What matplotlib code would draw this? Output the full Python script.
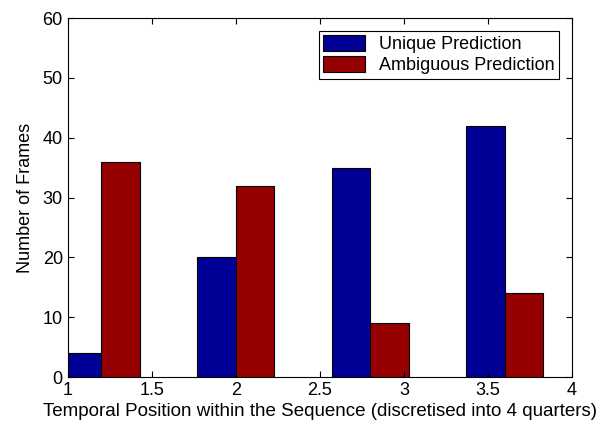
import numpy as np
import matplotlib
matplotlib.use("Agg")
import matplotlib.pyplot as plt

plt.rcParams['font.family'] = ['Liberation Sans', 'DejaVu Sans']

positions = [1.2, 2.0, 2.8, 3.6]
unique_pred = [4, 20, 35, 42]
ambiguous_pred = [36, 32, 9, 14]
bar_w = 0.8 * 2 / 3.5 / 2
fs = 13

fig = plt.figure(figsize=(6.09, 4.32), dpi=100)
ax = fig.add_axes([67.7 / 609, 1 - 377 / 432, (572 - 67.7) / 609, (377 - 18) / 432])

x = np.array(positions)
ax.bar(x - bar_w / 2, unique_pred, bar_w, color='#000096', edgecolor='black', linewidth=0.8, label='Unique Prediction')
ax.bar(x + bar_w / 2, ambiguous_pred, bar_w, color='#960000', edgecolor='black', linewidth=0.8, label='Ambiguous Prediction')

ax.set_xlim(1, 4)
ax.set_ylim(0, 60)
ax.set_xticks([1, 1.5, 2, 2.5, 3, 3.5, 4])
ax.set_xticklabels(['1', '1.5', '2', '2.5', '3', '3.5', '4'])
ax.set_yticks(range(0, 61, 10))
ax.tick_params(direction='in', top=True, right=True, labelsize=fs, length=4, width=0.8)
for s in ax.spines.values():
    s.set_linewidth(0.8)

ax.set_xlabel('Temporal Position within the Sequence (discretised into 4 quarters)', fontsize=13.5, labelpad=3)
ax.set_ylabel('Number of Frames', fontsize=fs, labelpad=6)

leg = ax.legend(loc='upper right', bbox_to_anchor=(0.975, 0.965), fontsize=fs, frameon=True,
                fancybox=False, edgecolor='black', framealpha=1, handlelength=2.3, handleheight=1.0,
                borderpad=0.25, labelspacing=0.15, handletextpad=0.8, borderaxespad=0)
leg.get_frame().set_linewidth(0.8)

fig.savefig('out.png', dpi=100)
